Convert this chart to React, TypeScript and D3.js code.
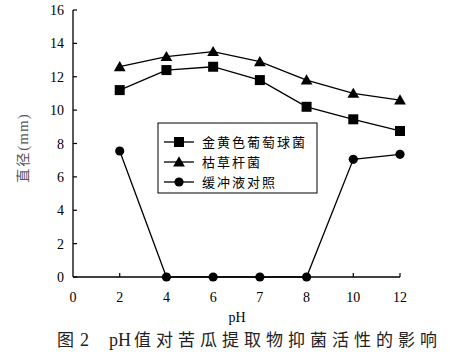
import React from 'react';
import * as d3 from 'd3';

// pH values (x axis is categorical: 7 sits between 6 and 8 at equal spacing)
const phTicks = ['0', '2', '4', '6', '7', '8', '10', '12'];
const phValues = ['2', '4', '6', '7', '8', '10', '12'];

const staphValues = [11.2, 12.4, 12.6, 11.8, 10.2, 9.45, 8.75];
const subtilisValues = [12.6, 13.2, 13.5, 12.9, 11.8, 11.0, 10.6];
const bufferValues = [7.55, 0, 0, 0, 0, 7.05, 7.35];

const yTicks = [0, 2, 4, 6, 8, 10, 12, 14, 16];

const seriesNames = ['金黄色葡萄球菌', '枯草杆菌', '缓冲液对照'];
const seriesShapes = ['square', 'triangle', 'circle'];

const serif = '"Liberation Serif", "DejaVu Serif", serif';
const cjk = '"Noto Sans CJK SC", sans-serif';

function Marker({ shape, x, y }: { shape: string; x: number; y: number }) {
  if (shape === 'square') {
    return <rect x={x - 5} y={y - 5} width={10} height={10} fill="#000" />;
  }
  if (shape === 'triangle') {
    const p = d3.symbol().type(d3.symbolTriangle).size(60)();
    return <path d={p || ''} transform={`translate(${x},${y + 1})`} fill="#000" />;
  }
  return <circle cx={x} cy={y} r={4.6} fill="#000" />;
}

export default function App() {
  const width = 450, height = 360;

  const x = d3.scalePoint<string>().domain(phTicks).range([73, 400]);
  const y = d3.scaleLinear().domain([0, 16]).range([277, 10]);

  const line = d3.line<[string, number]>()
    .x(d => x(d[0]) as number)
    .y(d => y(d[1]));

  const series = [staphValues, subtilisValues, bufferValues];

  const legendRows = [142, 162, 182];

  return (
    <svg width={width} height={height} style={{ position: 'absolute', left: 0, top: 0, background: '#fff' }}>
      {/* axes */}
      <line x1={73} x2={73} y1={y(16)} y2={y(0)} stroke="#000" strokeWidth={1.3} />
      <line x1={73} x2={400} y1={y(0)} y2={y(0)} stroke="#000" strokeWidth={1.3} />
      {yTicks.map(t => (
        <g key={'y' + t}>
          <line x1={73} x2={77} y1={y(t)} y2={y(t)} stroke="#000" strokeWidth={1.2} />
          <text x={64} y={y(t) + 5} textAnchor="end" fontFamily={serif} fontSize={14}>{t}</text>
        </g>
      ))}
      {phTicks.map(t => (
        <g key={'x' + t}>
          {t !== '0' && (
            <line x1={x(t)} x2={x(t)} y1={y(0)} y2={y(0) - 4} stroke="#000" strokeWidth={1.2} />
          )}
          <text x={x(t)} y={302} textAnchor="middle" fontFamily={serif} fontSize={14}>{t}</text>
        </g>
      ))}
      <text x={237} y={322} textAnchor="middle" fontFamily={serif} fontSize={14}>pH</text>
      <text transform="translate(28,148) rotate(-90)" textAnchor="middle" fontFamily={cjk} fontSize={14}
        fill="#555" letterSpacing={2}>
        直径<tspan fontFamily={serif} fontSize={15} letterSpacing={1}>(mm)</tspan>
      </text>

      {/* series */}
      {series.map((vals, i) => {
        const pts: [string, number][] = phValues.map((p, j) => [p, vals[j]]);
        return (
          <g key={'s' + i}>
            <path d={line(pts) || ''} fill="none" stroke="#000" strokeWidth={1.3} />
            {pts.map((d, j) => (
              <Marker key={j} shape={seriesShapes[i]} x={x(d[0]) as number} y={y(d[1])} />
            ))}
          </g>
        );
      })}

      {/* legend */}
      <rect x={158} y={123} width={159} height={70} fill="#fff" stroke="#000" strokeWidth={1} />
      {seriesNames.map((name, i) => (
        <g key={'l' + i}>
          <line x1={164} x2={194} y1={legendRows[i]} y2={legendRows[i]} stroke="#000" strokeWidth={1.3} />
          <Marker shape={seriesShapes[i]} x={179} y={legendRows[i]} />
          <text x={202} y={legendRows[i] + 5} fontFamily={cjk} fontSize={13} letterSpacing={2}>{name}</text>
        </g>
      ))}

      {/* caption */}
      <text x={57} y={346} fontFamily={cjk} fontSize={17} fill="#222">
        图<tspan dx={6} fontFamily={serif} fontSize={18}>2</tspan>
        <tspan dx={20} fontFamily={serif} fontSize={18}>pH</tspan>
        <tspan dx={3} letterSpacing={5}>值对苦瓜提取物抑菌活性的影响</tspan>
      </text>
    </svg>
  );
}
